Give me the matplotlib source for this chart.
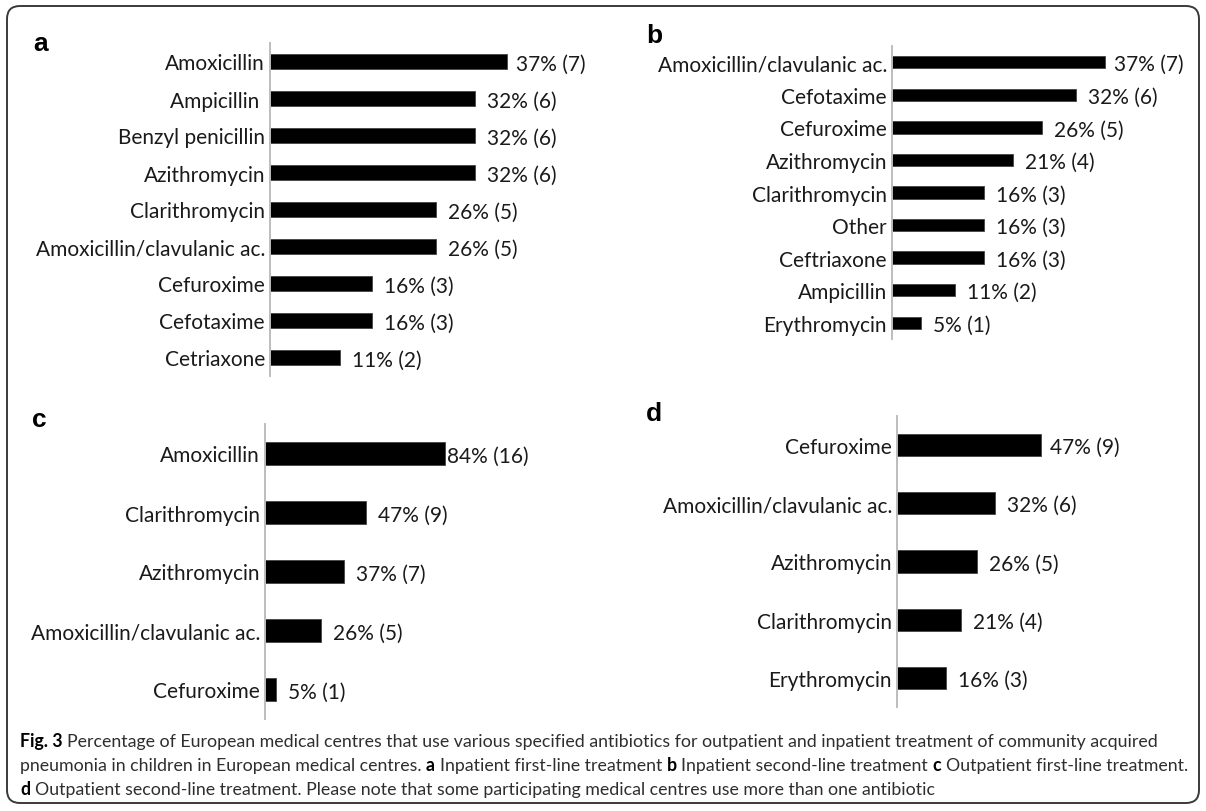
import matplotlib
matplotlib.use("Agg")
import matplotlib.pyplot as plt
from matplotlib.patches import FancyBboxPatch

plt.rcParams['font.family'] = ['Lato', 'DejaVu Sans']

W, H = 1206, 812

# a: inpatient first-line
a_drugs = ["Amoxicillin", "Ampicillin ", "Benzyl penicillin", "Azithromycin", "Clarithromycin",
           "Amoxicillin/clavulanic ac.", "Cefuroxime", "Cefotaxime", "Cetriaxone"]
a_pct = [37, 32, 32, 32, 26, 26, 16, 16, 11]
a_n = [7, 6, 6, 6, 5, 5, 3, 3, 2]

# b: inpatient second-line
b_drugs = ["Amoxicillin/clavulanic ac.", "Cefotaxime", "Cefuroxime", "Azithromycin", "Clarithromycin",
           "Other", "Ceftriaxone", "Ampicillin", "Erythromycin"]
b_pct = [37, 32, 26, 21, 16, 16, 16, 11, 5]
b_n = [7, 6, 5, 4, 3, 3, 3, 2, 1]

# c: outpatient first-line
c_drugs = ["Amoxicillin", "Clarithromycin", "Azithromycin", "Amoxicillin/clavulanic ac.", "Cefuroxime"]
c_pct = [84, 47, 37, 26, 5]
c_n = [16, 9, 7, 5, 1]

# d: outpatient second-line
d_drugs = ["Cefuroxime", "Amoxicillin/clavulanic ac.", "Azithromycin", "Clarithromycin", "Erythromycin"]
d_pct = [47, 32, 26, 21, 16]
d_n = [9, 6, 5, 4, 3]

caption = [
    [("Fig. 3", "bold"), (" Percentage of European medical centres that use various specified antibiotics "
                          "for outpatient and inpatient treatment of community acquired", "normal")],
    [("pneumonia in children in European medical centres.", "normal"), (" a", "bold"),
     (" Inpatient first-line treatment", "normal"), (" b", "bold"),
     (" Inpatient second-line treatment", "normal"), (" c", "bold"),
     (" Outpatient first-line treatment.", "normal")],
    [("d", "bold"), (" Outpatient second-line treatment. Please note that some participating medical "
                     "centres use more than one antibiotic", "normal")],
]

fig = plt.figure(figsize=(W / 100, H / 100), dpi=100)
fig.patch.set_facecolor("white")

# pixel-space overlay for the frame
bg = fig.add_axes([0, 0, 1, 1])
bg.set_xlim(0, W)
bg.set_ylim(H, 0)
bg.axis("off")
bg.add_patch(FancyBboxPatch((7, 7), 1192, 797, boxstyle="round,pad=0,rounding_size=13",
                            fc="none", ec="#3a3a3a", lw=1.4))

LABEL_SIZE = 15


def panel(letter, lx, ly, drugs, pct, n, x0, top, bottom, scale, right, long_gap=9):
    ax = fig.add_axes([x0 / W, (H - bottom) / H, (right - x0) / W, (bottom - top) / H])
    y = list(range(len(drugs)))
    ax.barh(y, pct, height=0.38, color="black", edgecolor="#444444", linewidth=0.6)
    ax.set_xlim(0, (right - x0) / scale)
    ax.set_ylim(len(drugs) - 0.5, -0.5)
    ax.set_yticks(y)
    ax.set_yticklabels(drugs, fontsize=LABEL_SIZE, color="#1a1a1a")
    ax.tick_params(axis="y", length=0, pad=3.6)
    ax.set_xticks([])
    for s in ["top", "right", "bottom"]:
        ax.spines[s].set_visible(False)
    ax.spines["left"].set_color("#bdbdbd")
    ax.spines["left"].set_linewidth(1.4)
    ax.patch.set_alpha(0)
    top_val = max(pct)
    for i, (p, k) in enumerate(zip(pct, n)):
        gap = long_gap if p == top_val else 12
        ax.annotate(f"{p}% ({k})", (p, i), xytext=(gap * 0.72, 0), textcoords="offset points",
                    va="center_baseline", ha="left", fontsize=LABEL_SIZE, color="#1a1a1a",
                    annotation_clip=False)
    bg.text(lx, ly, letter, fontsize=19, fontweight="bold", family="Liberation Sans",
            ha="left", va="baseline", color="black")
    return ax


panel("a", 33, 51, a_drugs, a_pct, a_n, 270, 44, 377, 6.4, 600)
panel("b", 646, 43, b_drugs, b_pct, b_n, 892, 47, 340, 5.75, 1190)
panel("c", 32, 427, c_drugs, c_pct, c_n, 265, 425, 720, 2.14, 600, long_gap=2)
panel("d", 646, 421, d_drugs, d_pct, d_n, 897, 417, 708, 3.06, 1190)

# caption, drawn run by run so the bold markers sit inline
renderer = fig.canvas.get_renderer()
CAP_SIZE = 12.8


def text_width(s, weight):
    t = bg.text(0, 0, s, fontsize=CAP_SIZE, fontweight=weight)
    w = t.get_window_extent(renderer).width
    t.remove()
    return w


space_w = text_width("x x", "normal") - text_width("xx", "normal")
for row, runs in enumerate(caption):
    x = 20
    yb = 747 + row * 24
    for s, weight in runs:
        if s.startswith(" "):
            x += space_w
        s = s.strip()
        col = "black" if weight == "bold" else "#2e2e2e"
        t = bg.text(x, yb, s, fontsize=CAP_SIZE, fontweight=weight, color=col, va="baseline")
        x += t.get_window_extent(renderer).width

fig.savefig("out.png", dpi=100, facecolor="white")
